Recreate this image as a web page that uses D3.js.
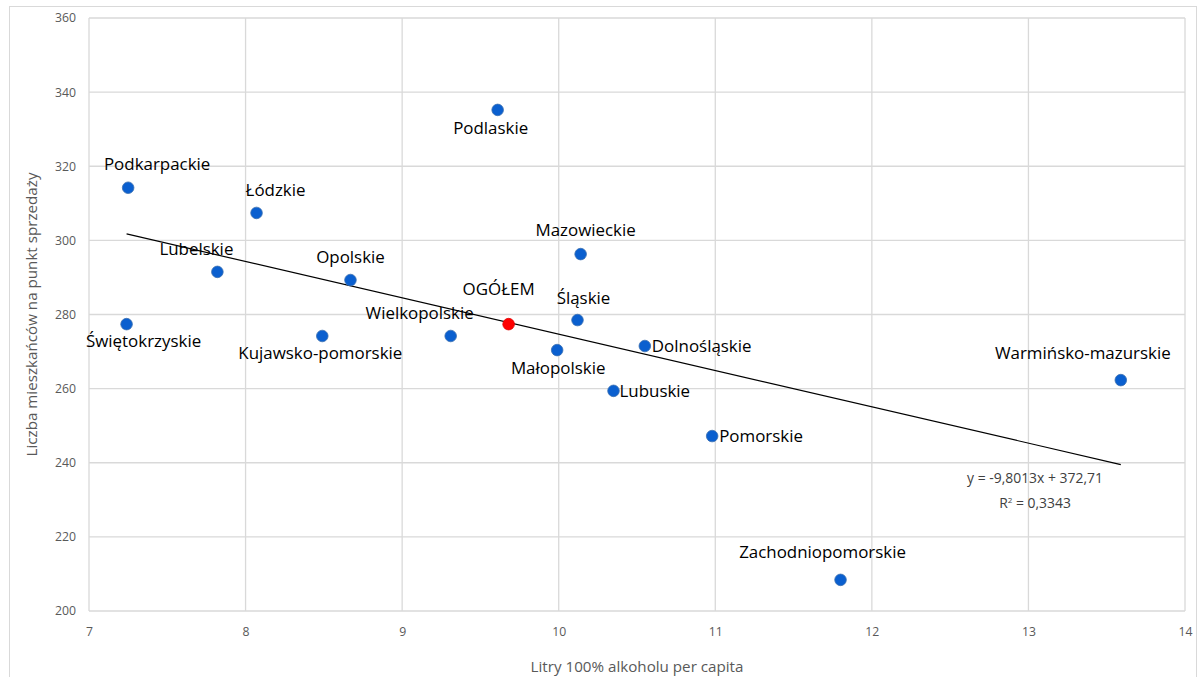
<!DOCTYPE html>
<html><head><meta charset="utf-8">
<script src="https://cdn.jsdelivr.net/npm/d3@7"></script>
<style>body{margin:0;background:#fff;}svg{display:block;font-family:"Open Sans",sans-serif;}</style>
</head><body><svg id="c" width="1201" height="677"></svg>
<script>
const names = ["Podkarpackie","Łódzkie","Lubelskie","Opolskie","Świętokrzyskie","Kujawsko-pomorskie","Wielkopolskie","OGÓŁEM","Podlaskie","Mazowieckie","Śląskie","Małopolskie","Dolnośląskie","Lubuskie","Pomorskie","Zachodniopomorskie","Warmińsko-mazurskie"];
const litres = [7.25,8.07,7.82,8.67,7.24,8.49,9.31,9.68,9.61,10.14,10.12,9.99,10.55,10.35,10.98,11.80,13.59];
const residents = [314.2,307.4,291.5,289.3,277.4,274.2,274.2,277.4,335.2,296.3,278.5,270.4,271.5,259.4,247.2,208.4,262.3];
const xTicks = [7,8,9,10,11,12,13,14];
const yTicks = [200,220,240,260,280,300,320,340,360];
const trendSlope = -9.8013, trendIntercept = 372.71;
const eqText = "y = -9,8013x + 372,71";
const r2Text = "0,3343";
const xTitle = "Litry 100% alkoholu per capita";
const yTitle = "Liczba mieszkańców na punkt sprzedaży";

// label layout: [dx, dy, anchor]
const labelPos = {
 "Podkarpackie":[29,-24,"middle"],"Łódzkie":[19,-23,"middle"],"Lubelskie":[-21,-23,"middle"],
 "Opolskie":[0,-23,"middle"],"Świętokrzyskie":[17,17,"middle"],"Kujawsko-pomorskie":[-2,17,"middle"],
 "Wielkopolskie":[-31,-23,"middle"],"OGÓŁEM":[-10,-35,"middle"],"Podlaskie":[-7,18,"middle"],
 "Mazowieckie":[5,-24,"middle"],"Śląskie":[6,-22,"middle"],"Małopolskie":[1,18,"middle"],
 "Dolnośląskie":[7,0,"start"],"Lubuskie":[6,0,"start"],"Pomorskie":[7,0,"start"],
 "Zachodniopomorskie":[-18,-28,"middle"],"Warmińsko-mazurskie":[-38,-27,"middle"]
};

const svg = d3.select("#c");
const L=89,R=1185,T=18,B=611;
const x = d3.scaleLinear().domain([7,14]).range([L,R]);
const y = d3.scaleLinear().domain([200,360]).range([B,T]);

// fit a font size so that a sample string reaches a target width
function fit(str, target, family){
  const t = svg.append("text").style("font-family",family).style("font-size","20px").text(str);
  const w = t.node().getComputedTextLength(); t.remove();
  return 20*target/w;
}
const fLabel = fit("Zachodniopomorskie",167,"Open Sans");
const fTick = fit("360",21,"Open Sans");
const fXT = fit(xTitle,213,"Open Sans");
const fEq = fit(eqText,136,"Open Sans");

svg.append("rect").attr("x",9.5).attr("y",6.5).attr("width",1187).attr("height",700)
  .attr("fill","none").attr("stroke","#d9d9d9");

const g = svg.append("g");
g.selectAll(".gx").data(xTicks).join("line").attr("x1",d=>x(d)).attr("x2",d=>x(d))
  .attr("y1",T).attr("y2",B).attr("stroke","#d9d9d9").attr("stroke-width",1.3);
g.selectAll(".gy").data(yTicks).join("line").attr("y1",d=>y(d)).attr("y2",d=>y(d))
  .attr("x1",L).attr("x2",R).attr("stroke","#d9d9d9").attr("stroke-width",1.3);

const xa = svg.append("g").attr("transform",`translate(0,${B})`)
  .call(d3.axisBottom(x).tickValues(xTicks).tickSize(0).tickPadding(16).tickFormat(d3.format("d")));
const ya = svg.append("g").attr("transform",`translate(${L},0)`)
  .call(d3.axisLeft(y).tickValues(yTicks).tickSize(0).tickPadding(13).tickFormat(d3.format("d")));
[xa,ya].forEach(a=>{a.select(".domain").remove();a.selectAll("text").attr("fill","#595959")
  .style("font-size",fTick+"px").style("font-family","'Open Sans',sans-serif");});

svg.append("text").attr("x",(L+R)/2).attr("y",672).attr("text-anchor","middle")
  .attr("fill","#595959").style("font-size",fXT+"px").text(xTitle);
svg.append("text").attr("transform",`translate(37,${(T+B)/2}) rotate(-90)`).attr("text-anchor","middle")
  .attr("fill","#595959").style("font-size",fXT+"px").text(yTitle);

const xe = d3.extent(litres);
svg.append("line").attr("x1",x(xe[0])).attr("x2",x(xe[1]))
  .attr("y1",y(trendSlope*xe[0]+trendIntercept)).attr("y2",y(trendSlope*xe[1]+trendIntercept))
  .attr("stroke","#000").attr("stroke-width",1.2);

const eq = svg.append("g").attr("fill","#404040").style("font-size",fEq+"px");
eq.append("text").attr("x",1035).attr("y",478).attr("dy","0.35em").attr("text-anchor","middle").text(eqText);
const r2 = eq.append("text").attr("x",1035).attr("y",503).attr("dy","0.35em").attr("text-anchor","middle");
r2.append("tspan").text("R");
r2.append("tspan").attr("dy",-5).style("font-size","8px").text("2");
r2.append("tspan").attr("dy",5).text(" = "+r2Text);

const data = names.map((n,i)=>({n, x:litres[i], y:residents[i]}));
svg.selectAll(".pt").data(data).join("circle")
  .attr("cx",d=>x(d.x)).attr("cy",d=>y(d.y)).attr("r",5.8)
  .attr("fill",d=>d.n==="OGÓŁEM"?"#ff0000":"#0a5fcf")
  .attr("stroke",d=>d.n==="OGÓŁEM"?"#e00000":"#3a6fb0").attr("stroke-width",0.8);

svg.selectAll(".lb").data(data).join("text")
  .attr("x",d=>x(d.x)+labelPos[d.n][0]).attr("y",d=>y(d.y)+labelPos[d.n][1])
  .attr("dy","0.35em").attr("text-anchor",d=>labelPos[d.n][2])
  .attr("fill","#000").style("font-size",fLabel+"px").text(d=>d.n);
</script></body></html>
